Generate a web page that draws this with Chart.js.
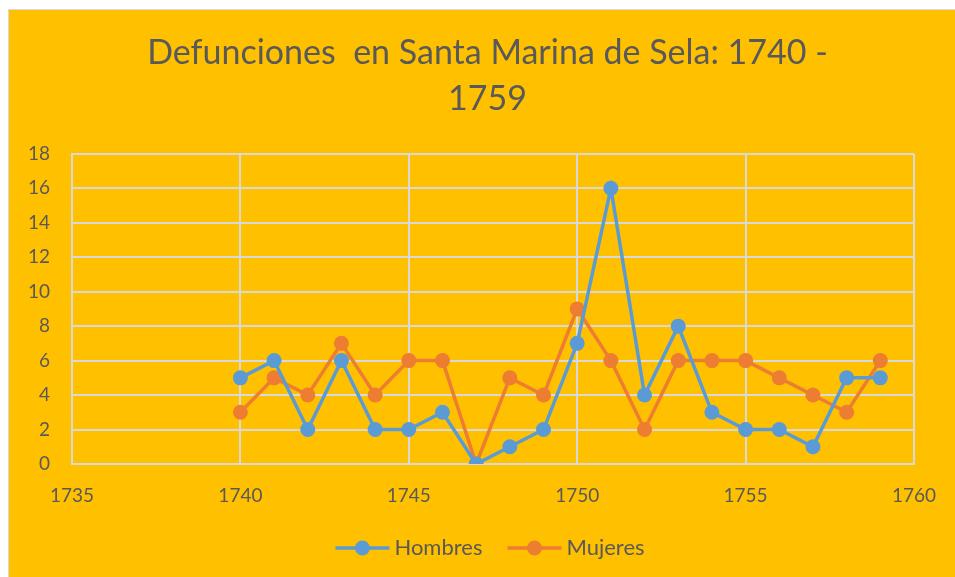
<!DOCTYPE html>
<html>
<head>
<meta charset="utf-8">
<script src="https://cdn.jsdelivr.net/npm/chart.js@4.4.1/dist/chart.umd.min.js"></script>
<style>
html,body{margin:0;padding:0;background:#ffffff;width:955px;height:577px;overflow:hidden;}
#wrap{position:absolute;left:8px;top:9px;width:947px;height:568px;background:#FFC000;border-top:1px solid #d9d9d9;border-left:1px solid #d9d9d9;overflow:hidden;}
canvas{display:block;}
</style>
</head>
<body>
<div id="wrap"><canvas id="c" width="957" height="567"></canvas></div>
<script>
const titleLines = ["Defunciones  en Santa Marina de Sela: 1740 -", "1759"];
const years = [1740,1741,1742,1743,1744,1745,1746,1747,1748,1749,1750,1751,1752,1753,1754,1755,1756,1757,1758,1759];
const hombres = [5,6,2,6,2,2,3,0,1,2,7,16,4,8,3,2,2,1,5,5];
const mujeres = [3,5,4,7,4,6,6,0,5,4,9,6,2,6,6,6,5,4,3,6];
const seriesNames = ["Hombres","Mujeres"];
const xMin = 1735, xMax = 1760, xStep = 5;
const yMin = 0, yMax = 18, yStep = 2;

const BLUE = "#5B9BD5", ORANGE = "#ED7D31", TEXT = "#595959", GRID = "#D9D9D9";
const FONT = "Lato, 'Open Sans', sans-serif";

function legendIcon(color){
  const c = document.createElement('canvas');
  c.width = 70; c.height = 18;
  const g = c.getContext('2d');
  g.strokeStyle = color; g.lineWidth = 3.5;
  g.beginPath(); g.moveTo(13.5,9); g.lineTo(67.5,9); g.stroke();
  g.fillStyle = color;
  g.beginPath(); g.arc(40.5,9,7.5,0,Math.PI*2); g.fill();
  return c;
}
const icons = [legendIcon(BLUE), legendIcon(ORANGE)];

const toPts = arr => years.map((x,i)=>({x:x,y:arr[i]}));

new Chart(document.getElementById('c'), {
  type: 'scatter',
  data: {
    datasets: [
      {label: seriesNames[0], data: toPts(hombres), showLine: true, borderColor: BLUE, backgroundColor: BLUE,
       borderWidth: 3.5, pointRadius: 7.5, pointHoverRadius: 7.5, pointBorderWidth: 0, tension: 0},
      {label: seriesNames[1], data: toPts(mujeres), showLine: true, borderColor: ORANGE, backgroundColor: ORANGE,
       borderWidth: 3.5, pointRadius: 7.5, pointHoverRadius: 7.5, pointBorderWidth: 0, tension: 0}
    ]
  },
  options: {
    responsive: false,
    animation: false,
    devicePixelRatio: 1,
    layout: {padding: {left: 0, right: 0, top: 0, bottom: 8}},
    plugins: {
      title: {display: true, text: titleLines, color: TEXT,
        font: {family: FONT, size: 34, weight: 'normal', lineHeight: 1.35},
        padding: {top: 20, bottom: 32}},
      legend: {position: 'bottom',
        labels: {color: TEXT, font: {family: FONT, size: 22}, usePointStyle: true, pointStyleWidth: 53, padding: 20,
          generateLabels: (chart) => chart.data.datasets.map((d,i)=>({
            text: d.label, pointStyle: icons[i], fillStyle: d.borderColor, strokeStyle: d.borderColor,
            lineWidth: 0, hidden: false, datasetIndex: i, fontColor: TEXT
          }))
        }},
      tooltip: {enabled: false}
    },
    scales: {
      x: {type: 'linear', min: xMin, max: xMax,
        ticks: {stepSize: xStep, color: TEXT, font: {family: FONT, size: 19}, padding: 20, callback: v => String(v)},
        grid: {color: GRID, lineWidth: 2, drawTicks: false},
        border: {color: GRID, width: 2},
        afterFit: s => { s.height = 53; }
      },
      y: {min: yMin, max: yMax, position: 'left',
        ticks: {stepSize: yStep, color: TEXT, font: {family: FONT, size: 19}, padding: 22},
        grid: {color: GRID, lineWidth: 2, drawTicks: false},
        border: {color: GRID, width: 2},
        afterFit: s => { s.width = 63; }
      },
      ySpace: {position: 'right', display: true, min: 0, max: 1,
        ticks: {display: false}, grid: {display: false, drawTicks: false}, border: {display: false},
        afterFit: s => { s.width = 52; }
      }
    }
  }
});
</script>
</body>
</html>
